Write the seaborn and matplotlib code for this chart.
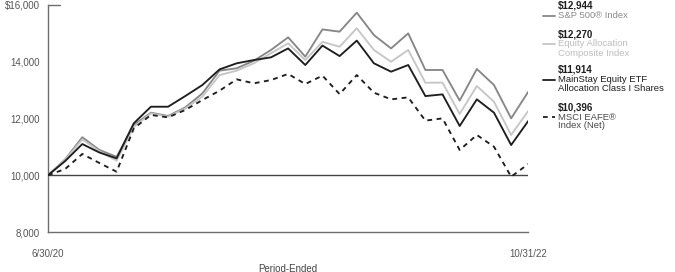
import matplotlib
matplotlib.use("Agg")
import matplotlib.pyplot as plt
from matplotlib.lines import Line2D
import seaborn as sns
import pandas as pd
import numpy as np

# ---- data ----
months = list(range(29))  # 6/30/20 ... 10/31/22 monthly
sp500 = [10000, 10560, 11340, 10890, 10650, 11770, 12205, 12090, 12390, 12885,
         13685, 13770, 14035, 14415, 14860, 14180, 15140, 15060, 15730, 14940,
         14470, 15000, 13710, 13710, 12630, 13745, 13180, 12005, 12944]
composite = [10000, 10540, 11265, 10840, 10515, 11700, 12180, 12060, 12350, 12770,
             13530, 13685, 13945, 14300, 14650, 14060, 14700, 14530, 15180, 14415,
             14000, 14415, 13260, 13265, 12160, 13145, 12590, 11420, 12270]
mainstay = [10000, 10500, 11100, 10800, 10595, 11830, 12415, 12415, 12790, 13180,
            13730, 13945, 14060, 14155, 14470, 13885, 14570, 14200, 14745, 13945,
            13650, 13885, 12790, 12850, 11735, 12675, 12205, 11065, 11914]
msci = [10000, 10220, 10750, 10430, 10125, 11650, 12125, 12040, 12300, 12650,
        12980, 13380, 13240, 13355, 13570, 13215, 13510, 12860, 13530, 12910,
        12675, 12745, 11925, 12005, 10890, 11420, 11005, 9950, 10396]

series_names = ["S&P 500® Index", "Equity Allocation Composite Index",
                "MainStay Equity ETF Allocation Class I Shares", "MSCI EAFE® Index (Net)"]
final_labels = ["$12,944", "$12,270", "$11,914", "$10,396"]
legend_lines = [["S&P 500® Index"],
                ["Equity Allocation", "Composite Index"],
                ["MainStay Equity ETF", "Allocation Class I Shares"],
                ["MSCI EAFE®", "Index (Net)"]]
ytick_vals = [8000, 10000, 12000, 14000, 16000]
ytick_labels = ["8,000", "10,000", "12,000", "14,000", "$16,000"]
x_labels = ["6/30/20", "10/31/22"]

df = pd.DataFrame({
    "month": months * 4,
    "value": sp500 + composite + mainstay + msci,
    "series": sum([[n] * len(months) for n in series_names], []),
})

colors = {series_names[0]: "#878787", series_names[1]: "#c6c6c6",
          series_names[2]: "#1e1e1e", series_names[3]: "#1e1e1e"}
text_colors = ["#8a8a8a", "#bdbdbd", "#1e1e1e", "#4a4a4a"]
dashes = {series_names[0]: "", series_names[1]: "", series_names[2]: "",
          series_names[3]: (2.6, 2.4)}

sns.set_theme(style="white")
plt.rcParams["font.family"] = ["Liberation Sans", "DejaVu Sans"]

fig = plt.figure(figsize=(6.75, 2.72), dpi=100)
ax = fig.add_axes([48/675, 1-232/272, (528.3-48)/675, (232-5)/272])

# reference line at 10,000
ax.axhline(10000, color="#444444", lw=1.0, zorder=1)

sns.lineplot(data=df, x="month", y="value", hue="series", style="series",
             hue_order=series_names, style_order=series_names,
             palette=colors, dashes=dashes, linewidth=1.35, legend=False,
             ax=ax, zorder=3)

ax.set_xlim(0, 28)
ax.set_ylim(8000, 16000)
ax.margins(0)

ax.set_yticks(ytick_vals)
ax.set_yticklabels(ytick_labels)
ax.tick_params(axis="y", length=0, pad=6, labelsize=7, labelcolor="#555555")

ax.set_xticks(months)
ax.set_xticklabels([x_labels[0]] + [""] * 27 + [x_labels[1]])
ax.tick_params(axis="x", direction="in", length=3.5, width=0.7, color="#555555",
               pad=12.5, labelsize=7, labelcolor="#555555")
ax.set_xlabel("Period-Ended", fontsize=7, color="#444444", labelpad=3)
ax.set_ylabel("")

for side in ["top", "right"]:
    ax.spines[side].set_visible(False)
for side in ["left", "bottom"]:
    ax.spines[side].set_color("#6e6e6e")
    ax.spines[side].set_linewidth(1.0)

# small cap line at top of y axis
ax.axhline(16000, xmin=0, xmax=0.025, color="#6e6e6e", lw=1.0, clip_on=False)

# ---- legend on the right ----
W, H = 675, 272
x_text = 558 / W
entry_tops = [6, 34.5, 70, 107.5]
for k in range(4):
    y0 = entry_tops[k]
    fig.text(x_text, 1 - y0/H, final_labels[k], fontsize=7, fontweight="bold",
             color="#1e1e1e", va="center", ha="left")
    for j, line in enumerate(legend_lines[k]):
        yy = y0 + 9.5 + j * 9
        fig.text(x_text, 1 - yy/H, line, fontsize=6.8, color=text_colors[k],
                 va="center", ha="left")
    ly = 1 - (y0 + 9.5)/H
    fig.add_artist(Line2D([543/W, 555/W], [ly, ly], color=colors[series_names[k]],
                          lw=1.3, linestyle=(0, (2.6, 2.4)) if k == 3 else "-"))

fig.savefig("out.png", dpi=100, facecolor="white")
